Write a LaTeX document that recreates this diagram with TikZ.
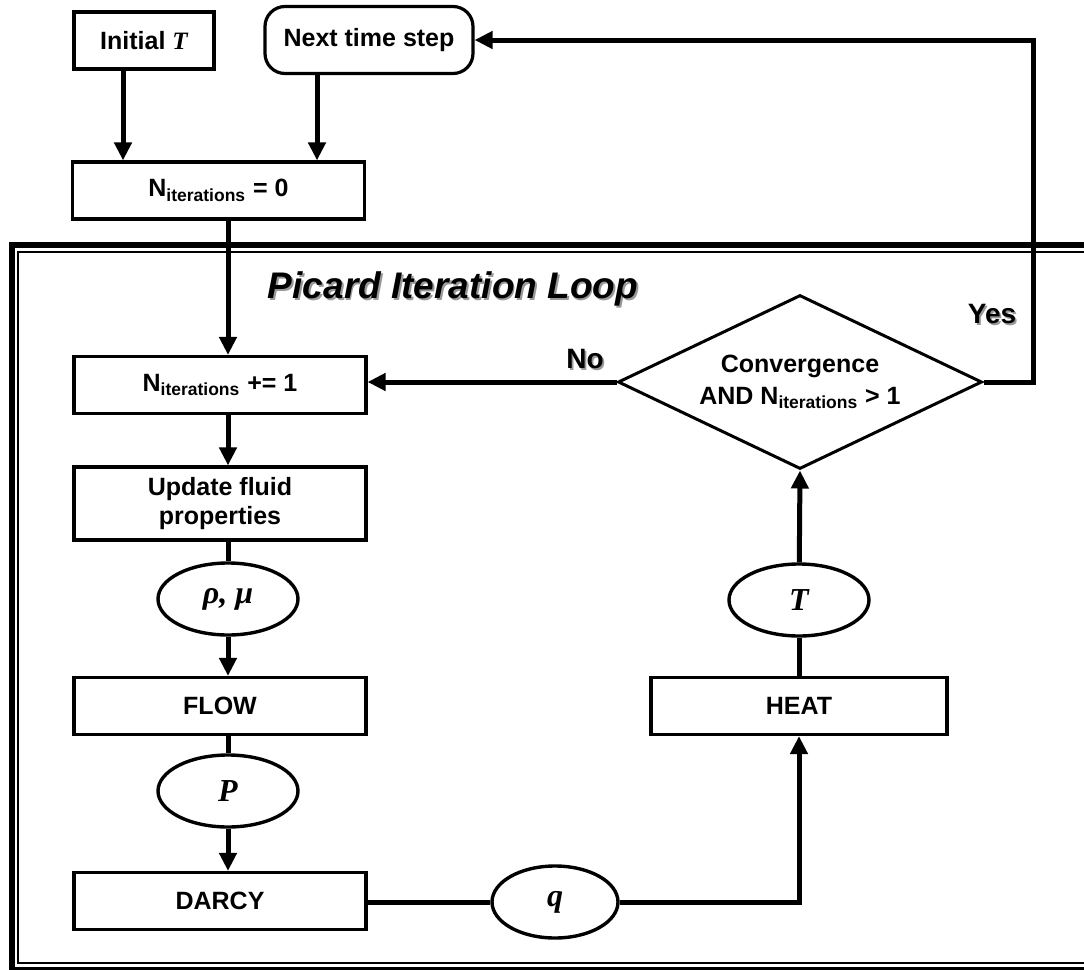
\documentclass[tikz,border=0pt]{standalone}
\usepackage{fontspec}
\setmainfont{Liberation Serif}
\setsansfont{Liberation Sans}
\usetikzlibrary{shapes.geometric,arrows.meta}
\newcommand\shtext[1]{\rlap{\kern0.9pt\raisebox{-0.9pt}{\textcolor{black!40}{#1}}}#1}

\begin{document}
\begin{tikzpicture}[x=0.5pt,y=-0.5pt,
    box/.style={draw,rectangle,line width=1.6pt,inner sep=0pt,align=center,
      minimum width=146pt,minimum height=28.5pt,
      font=\sffamily\bfseries\fontsize{12.5}{14.5}\selectfont},
    roundbox/.style={box,rounded corners=10pt},
    var/.style={draw,ellipse,line width=1.7pt,inner sep=0pt,
      minimum width=70pt,minimum height=36pt,
      font=\rmfamily\bfseries\itshape\fontsize{16}{18}\selectfont},
    test/.style={draw,diamond,line width=1.5pt,inner sep=0pt,aspect=2,align=center,
      minimum width=182pt,minimum height=87pt,
      font=\sffamily\bfseries\fontsize{12.5}{16}\selectfont},
    lbl/.style={font=\sffamily\bfseries\fontsize{14}{16}\selectfont},
    arr/.style={line width=2.5pt,-{Triangle[length=9pt,width=8.5pt]}},
    ln/.style={line width=2.5pt}]
  \useasboundingbox (0,0) rectangle (1084,970);

  % outer frame of the loop
  \draw[line width=3pt] (11.5,245) rectangle (1104,969.5);
  \draw[line width=1pt] (18,252) rectangle (1097,963);
  \node[font=\sffamily\bfseries\itshape\fontsize{18.5}{20}\selectfont] (title) at (453,290)
    {\shtext{Picard Iteration Loop}};

  % start
  \node[box,minimum width=70pt] (initT) at (144,40.5) {Initial {\rmfamily\itshape T}};
  \node[roundbox,minimum width=104pt,minimum height=33.5pt] (next) at (369,40) {Next time step};
  \node[box] (n0) at (218.5,190.5) {N\textsubscript{iterations} = 0};
  \coordinate (ta) at (123,0);
  \coordinate (tb) at (317,0);

  % loop, left column
  \node[box] (ninc) at (220,385) {N\textsubscript{iterations} += 1};
  \node[box,minimum height=36.5pt] (upd) at (220,503.5) {Update fluid\\properties};
  \node[var] (rhomu) at (228,599) {ρ, μ};
  \node[box] (flow) at (220,706) {FLOW};
  \node[var] (pres) at (228,791) {P};
  \node[box] (darcy) at (220,901) {DARCY};

  % loop, right column
  \node[var,minimum width=63pt] (flux) at (555,902) {q};
  \node[box,minimum width=148pt] (heat) at (799,706) {HEAT};
  \node[var] (temp) at (799,600) {T};
  \node[test] (conv) at (800,382) {Convergence\\AND N\textsubscript{iterations} > 1};

  \node[lbl] (no) at (585,360) {\shtext{No}};
  \node[lbl] (yes) at (992,315) {\shtext{Yes}};

  \begin{scope}[arr]
    \draw (initT.south -| ta) -- (n0.north -| ta);
    \draw (next.south -| tb) -- (n0.north -| tb);
    \draw (n0.south -| rhomu) -- (ninc.north -| rhomu);
    \draw (ninc.south -| rhomu) -- (upd.north -| rhomu);
    \draw (rhomu) -- (flow.north -| rhomu);
    \draw (pres) -- (darcy.north -| pres);
    \draw (flux) -| (heat.south);
    \draw (temp) -- (conv.south);
    \draw (conv.west) -- (ninc.east |- conv.west);
    \draw (conv.east) -- ++(50,0) |- (next.east);
  \end{scope}
  \begin{scope}[ln]
    \draw (upd.south -| rhomu) -- (rhomu);
    \draw (flow.south -| pres) -- (pres);
    \draw (darcy.east |- flux) -- (flux);
    \draw (heat.north) -- (temp);
  \end{scope}
\end{tikzpicture}
\end{document}
